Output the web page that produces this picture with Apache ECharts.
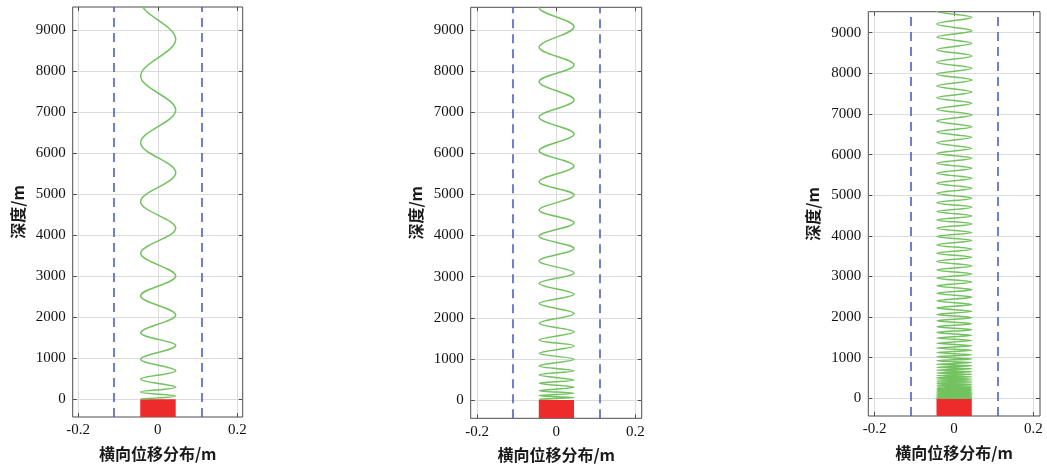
<!DOCTYPE html>
<html>
<head>
<meta charset="utf-8">
<script src="https://cdn.jsdelivr.net/npm/echarts@6/dist/echarts.min.js"></script>
<style>
    html, body {margin: 0; padding: 0; background: #fff;}
    #main {width: 1047px; height: 466px;}
</style>
</head>
<body>
<div id="main"></div>
<script>
// ticks
const xTicks = [-0.2, 0, 0.2];
const yTicks = [0, 1000, 2000, 3000, 4000, 5000, 6000, 7000, 8000, 9000];

// 横向位移摆幅 (右 / 左)
const swingRight = 0.045;
const swingLeft = -0.043;
// 蓝色虚线边界
const boundX = [-0.107, 0.107];
// 红色区域
const redX = [-0.044, 0.045];
const redDepth = [0, -440];

// 各图极值点深度 (右、左交替, 从右开始)
const depth1 = [10580, 9700, 8773, 7879, 7050, 6254, 5522, 4816, 4167, 3558, 3005, 2525, 2057, 1620,
    1310, 976, 699, 489, 295, 180, 80, 8];
const depth2 = [10010, 9545, 9080, 8579, 8148, 7743, 7297, 6876, 6470, 6064, 5691, 5310, 4985, 4620,
    4311, 3986, 3686, 3383, 3092, 2833, 2573, 2346, 2107, 1864, 1661, 1460, 1314, 1136, 990, 827,
    713, 608, 487, 406, 309, 227, 163, 105, 60, 20];
const depth3 = [9690, 9530, 9378, 9214, 9049, 8894, 8739, 8583, 8426, 8275, 8123, 7979, 7835, 7687,
    7539, 7400, 7261, 7117, 6973, 6829, 6685, 6555, 6424, 6289, 6153, 6030, 5910, 5788, 5665, 5542,
    5419, 5296, 5172, 5049, 4926, 4815, 4704, 4597, 4490, 4392, 4293, 4187, 4080, 3981, 3882, 3776,
    3670, 3572, 3473, 3366, 3259, 3161, 3062, 2961, 2860, 2768, 2675, 2583, 2490, 2400, 2310, 2225,
    2140, 2062, 1985, 1910, 1835, 1762, 1690, 1620, 1550, 1485, 1420, 1357, 1295, 1237, 1180, 1125,
    1070, 1020, 970, 925, 880, 840, 800, 762, 725, 690, 655, 622, 590, 560, 530, 502, 475, 450, 425,
    402, 380, 359, 338, 319, 300, 282, 265, 248, 232, 217, 202, 188, 175, 162, 150, 138, 127, 116,
    106, 96, 87, 78, 70, 62, 55, 48, 42, 36, 30, 25, 20, 15, 11, 6, 2];

// layout of the three panels
const panels = [
    {depth: depth1, left: 72.7, top: 7, width: 170, height: 410, xMin: -0.2135, xMax: 0.2131, yMin: -431, yMax: 9560},
    {depth: depth2, left: 470.7, top: 7.3, width: 171, height: 411, xMin: -0.216, xMax: 0.216, yMin: -445, yMax: 9552},
    {depth: depth3, left: 868.3, top: 11.7, width: 171.7, height: 404.3, xMin: -0.216, xMax: 0.217, yMin: -436, yMax: 9517},
];

const frameColor = '#4d4d4d';
const labelStyle = {fontFamily: 'Liberation Serif', fontSize: 15, color: '#111'};
const nameStyle = {fontFamily: 'Noto Sans CJK SC', fontSize: 16, fontWeight: 'bold', color: '#1a1a1a'};

const grid = [];
const xAxis = [];
const yAxis = [];
const series = [];

panels.forEach((p, i) => {
    grid.push({
        left: p.left, top: p.top, width: p.width, height: p.height, outerBoundsMode: 'none',
        show: true, borderColor: frameColor, borderWidth: 1, backgroundColor: 'transparent'
    });
    xAxis.push({
        gridIndex: i, type: 'value', min: p.xMin, max: p.xMax, position: 'bottom',
        name: '横向位移分布/m', nameLocation: 'middle', nameGap: 29, nameTextStyle: nameStyle,
        axisLine: {show: false, onZero: false},
        axisTick: {inside: true, length: 4, customValues: xTicks, lineStyle: {color: frameColor}},
        axisLabel: {customValues: xTicks, margin: 6, formatter: v => String(v), ...labelStyle},
        splitLine: {show: true, lineStyle: {color: '#dcdcdc', width: 1}}
    });
    yAxis.push({
        gridIndex: i, type: 'value', min: p.yMin, max: p.yMax, position: 'left',
        name: '深度/m', nameLocation: 'middle', nameGap: 47, nameTextStyle: nameStyle,
        axisLine: {show: false, onZero: false},
        axisTick: {inside: true, length: 4, customValues: yTicks, lineStyle: {color: frameColor}},
        axisLabel: {customValues: yTicks, margin: 7, formatter: v => String(v), ...labelStyle},
        splitLine: {show: true, lineStyle: {color: '#dcdcdc', width: 1}}
    });
});
// top / right ticks (box)
panels.forEach((p, i) => {
    xAxis.push({
        gridIndex: i, type: 'value', min: p.xMin, max: p.xMax, position: 'top',
        axisLine: {show: false, onZero: false},
        axisTick: {inside: true, length: 4, customValues: xTicks, lineStyle: {color: frameColor}},
        axisLabel: {show: false}, splitLine: {show: false}
    });
    yAxis.push({
        gridIndex: i, type: 'value', min: p.yMin, max: p.yMax, position: 'right',
        axisLine: {show: false, onZero: false},
        axisTick: {inside: true, length: 4, customValues: yTicks, lineStyle: {color: frameColor}},
        axisLabel: {show: false}, splitLine: {show: false}
    });
});

panels.forEach((p, i) => {
    series.push({
        type: 'line', xAxisIndex: i, yAxisIndex: i,
        data: p.depth.map((d, k) => [k % 2 === 0 ? swingRight : swingLeft, d]),
        smooth: 0.36, showSymbol: false, symbol: 'none', silent: true,
        lineStyle: {color: '#72c25f', width: 1.5},
        markLine: {
            silent: true, symbol: 'none', label: {show: false},
            lineStyle: {color: '#4b5fc7', width: 1.6, type: [9, 6]},
            data: boundX.map(v => ({xAxis: v}))
        },
        markArea: {
            silent: true,
            itemStyle: {color: '#ee2b2b', opacity: 1},
            data: [[{coord: [redX[0], redDepth[0]]}, {coord: [redX[1], redDepth[1]]}]]
        },
        z: 3
    });
});

const chart = echarts.init(document.getElementById('main'));
chart.setOption({
    backgroundColor: '#fff',
    animation: false,
    grid: grid,
    xAxis: xAxis,
    yAxis: yAxis,
    series: series
});
</script>
</body>
</html>
